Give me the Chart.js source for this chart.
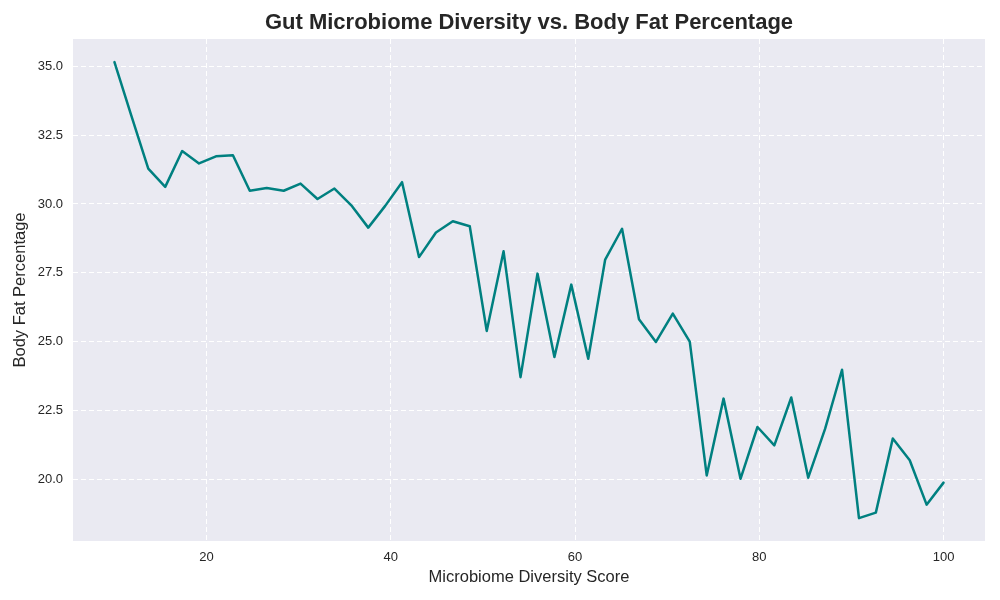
<!DOCTYPE html>
<html>
<head>
<meta charset="utf-8">
<script src="https://cdn.jsdelivr.net/npm/chart.js@4/dist/chart.umd.min.js"></script>
<style>
  html, body { margin: 0; padding: 0; background: #fff; }
  #wrap { width: 1000px; height: 600px; }
</style>
</head>
<body>
<div id="wrap"><canvas id="myChart" width="1000" height="600"></canvas></div>
<script>
// diversity score (x) and body fat % (y)
const diversityScores = [
  10.00, 11.84, 13.67, 15.51, 17.35, 19.18, 21.02, 22.86, 24.69, 26.53,
  28.37, 30.20, 32.04, 33.88, 35.71, 37.55, 39.39, 41.22, 43.06, 44.90,
  46.73, 48.57, 50.41, 52.24, 54.08, 55.92, 57.76, 59.59, 61.43, 63.27,
  65.10, 66.94, 68.78, 70.61, 72.45, 74.29, 76.12, 77.96, 79.80, 81.63,
  83.47, 85.31, 87.14, 88.98, 90.82, 92.65, 94.49, 96.33, 98.16, 100.00
];
const bodyFat = [
  35.15, 33.20, 31.28, 30.62, 31.92, 31.47, 31.73, 31.77, 30.48, 30.58,
  30.48, 30.74, 30.18, 30.56, 29.95, 29.14, 29.93, 30.79, 28.07, 28.96,
  29.37, 29.19, 25.39, 28.28, 23.71, 27.47, 24.44, 27.07, 24.38, 27.98,
  29.10, 25.81, 24.99, 26.02, 25.00, 20.14, 22.93, 20.02, 21.90, 21.23,
  22.97, 20.06, 21.83, 23.98, 18.59, 18.79, 21.48, 20.69, 19.08, 19.88
];
const xTicks = [20, 40, 60, 80, 100];
const yTicks = [20.0, 22.5, 25.0, 27.5, 30.0, 32.5, 35.0];
const chartTitle = 'Gut Microbiome Diversity vs. Body Fat Percentage';

const ctx = document.getElementById('myChart').getContext('2d');
const font = 'Liberation Sans, Arial, sans-serif';

// grey plot background + title centred over the plot area (like matplotlib)
const plotBg = {
  id: 'plotBg',
  beforeDraw(chart) {
    const a = chart.chartArea;
    const c = chart.ctx;
    c.save();
    c.fillStyle = '#EAEAF2';
    c.fillRect(a.left, a.top, a.right - a.left, a.bottom - a.top);
    c.restore();
  },
  afterDraw(chart) {
    const a = chart.chartArea;
    const c = chart.ctx;
    c.save();
    c.fillStyle = '#262626';
    c.font = 'bold 22px ' + font;
    c.textAlign = 'center';
    c.textBaseline = 'middle';
    c.fillText(chartTitle, (a.left + a.right) / 2, 23);
    c.restore();
  }
};

var myChart = new Chart(ctx, {
  type: 'line',
  data: {
    datasets: [{
      label: 'Body Fat Percentage',
      data: diversityScores.map((x, i) => ({ x: x, y: bodyFat[i] })),
      borderColor: '#008080',
      borderWidth: 2.5,
      borderJoinStyle: 'round',
      borderCapStyle: 'round',
      pointRadius: 0,
      tension: 0,
      fill: false
    }]
  },
  options: {
    responsive: false,
    animation: false,
    layout: { padding: { left: 8, right: 15, top: 39, bottom: 0 } },
    plugins: {
      legend: { display: false },
      tooltip: { enabled: false },
      title: { display: false }
    },
    scales: {
      x: {
        type: 'linear',
        min: 5.5,
        max: 104.5,
        afterBuildTicks: s => { s.ticks = xTicks.map(v => ({ value: v })); },
        afterFit: s => { s.height = 59; },
        grid: { color: '#ffffff', lineWidth: 1, drawTicks: false },
        border: { display: false, dash: [5, 3] },
        ticks: { color: '#262626', font: { family: font, size: 13 }, padding: 9, maxRotation: 0 },
        title: {
          display: true,
          text: 'Microbiome Diversity Score',
          color: '#262626',
          font: { family: font, size: 16.5 },
          padding: { top: 4, bottom: 13 }
        }
      },
      y: {
        min: 17.76,
        max: 35.99,
        afterBuildTicks: s => { s.ticks = yTicks.map(v => ({ value: v })); },
        afterFit: s => { s.width = 65; },
        grid: { color: '#ffffff', lineWidth: 1, drawTicks: false },
        border: { display: false, dash: [5, 3] },
        ticks: {
          color: '#262626',
          font: { family: font, size: 13 },
          padding: 10,
          callback: v => Number(v).toFixed(1)
        },
        title: {
          display: true,
          text: 'Body Fat Percentage',
          color: '#262626',
          font: { family: font, size: 16.5 },
          padding: { top: 3, bottom: 4 }
        }
      }
    }
  },
  plugins: [plotBg]
});
</script>
</body>
</html>
